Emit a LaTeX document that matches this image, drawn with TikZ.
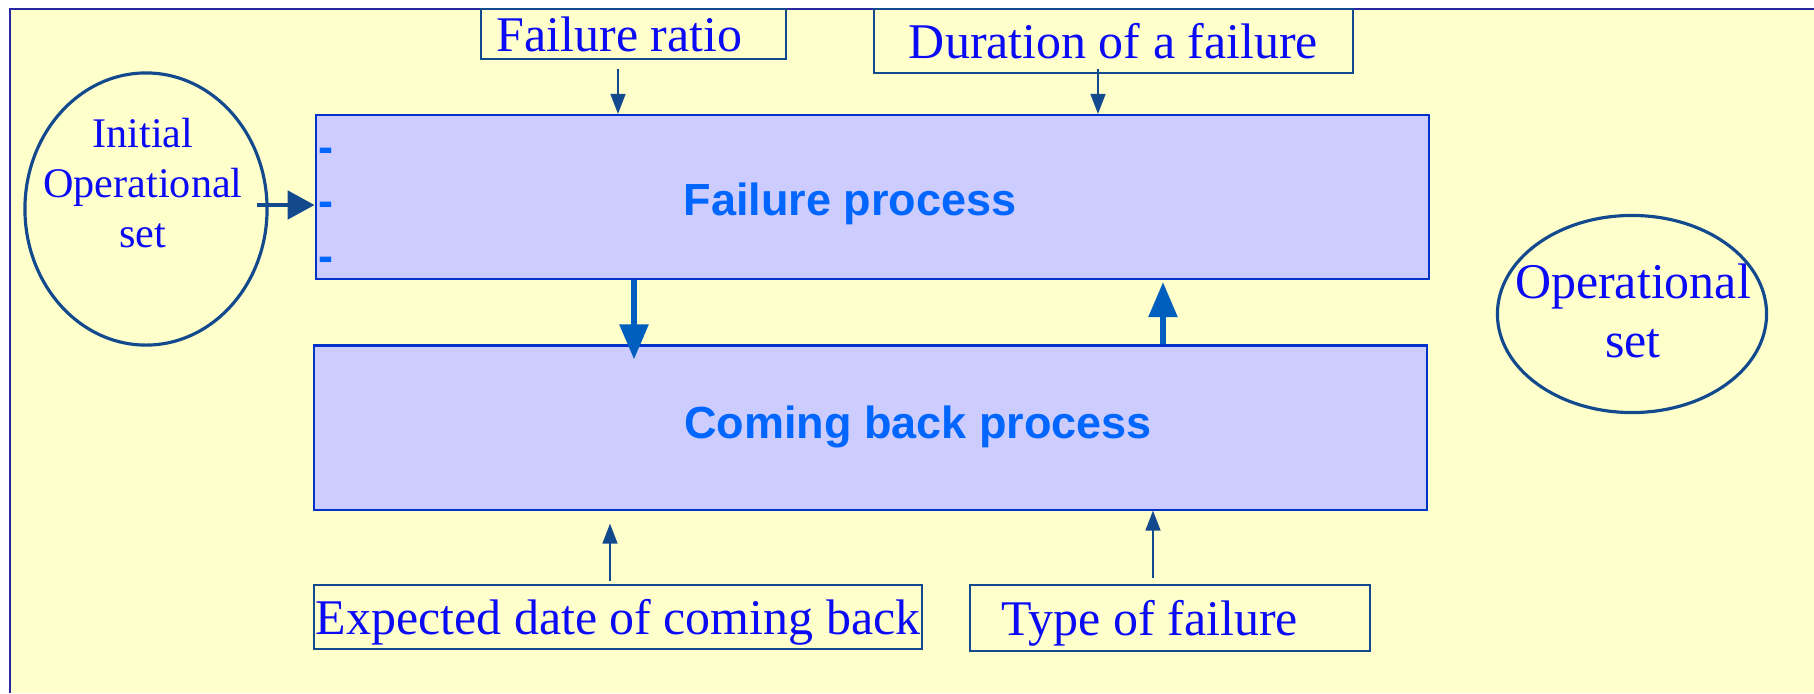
\documentclass[tikz,border=0pt]{standalone}
\usepackage{fontspec}
\setmainfont{Liberation Serif}
\setsansfont{Liberation Sans}
\usetikzlibrary{arrows.meta,shapes.geometric}
\definecolor{bgyellow}{HTML}{FFFFCC}
\definecolor{bgborder}{HTML}{2828A0}
\definecolor{boxfill}{HTML}{CCCCFF}
\definecolor{boxline}{HTML}{0033CC}
\definecolor{txtblue}{HTML}{0A0AF5}
\definecolor{boldblue}{HTML}{0066FF}
\definecolor{darkline}{HTML}{134A8E}
\definecolor{flowblue}{HTML}{005EBF}
\begin{document}
\begin{tikzpicture}[x=0.01cm,y=-0.01cm,
    procbox/.style={draw=boxline,fill=boxfill,line width=0.6pt,minimum width=11.13cm,minimum height=1.64cm,inner sep=0pt},
    proctext/.style={text=boldblue,inner sep=0pt,font=\sffamily\bfseries\fontsize{12.8}{15}\selectfont},
    labelbox/.style={draw=darkline,line width=0.5pt,inner ysep=0pt,text=txtblue,font=\fontsize{14.2}{17}\selectfont},
    setellipse/.style={ellipse,draw=darkline,line width=0.9pt,inner sep=0pt},
    settext/.style={text=txtblue,align=center,inner sep=0pt},
    thinarrow/.style={darkline,line width=0.45pt,-{Triangle[length=0.2cm,width=0.15cm]}},
    flowarrow/.style={flowblue,line width=1.6pt,-{Triangle[length=0.35cm,width=0.28cm]}}]
    \useasboundingbox (0,0) rectangle (1814,693);
    % background
    \fill[bgyellow] (10,9) rectangle (1814,693);
    \draw[bgborder,line width=0.6pt] (10,693) -- (10,9) -- (1814,9);
    % the two processes
    \node[procbox] (failure) at (872.5,197) {};
    \node[proctext] (failuretext) at (850,204) {Failure process};
    \node[procbox] (back) at (870.5,427.5) {};
    \node[proctext] (backtext) at (918,427) {Coming back process};
    \foreach \y [count=\i] in {150,204,259}
        \node[anchor=base,text=boldblue,inner sep=0pt,font=\sffamily\bfseries\fontsize{12.8}{15}\selectfont] (dash\i) at (326,\y+12) {-};
    % sets
    \node[setellipse,minimum width=2.42cm,minimum height=2.72cm] (initial) at (146,209) {};
    \node[settext,font=\fontsize{12}{14.2}\selectfont] (initialtext) at (143,183) {Initial\\Operational\\set};
    \node[setellipse,minimum width=2.69cm,minimum height=1.97cm] (operational) at (1632,314) {};
    \node[settext,font=\fontsize{14.2}{16.8}\selectfont] (operationaltext) at (1633,311) {Operational\\set};
    % inputs
    \node[labelbox,minimum height=0.5cm,inner xsep=0.16cm] (ratio) at (633.5,34) {\makebox[2.73cm][l]{Failure ratio}};
    \node[labelbox,minimum height=0.64cm,minimum width=4.79cm,inner xsep=0pt] (duration) at (1113.5,41) {Duration of a failure};
    \node[labelbox,minimum height=0.64cm,minimum width=6.08cm,inner xsep=0pt,text height=0.45cm,text depth=0.1cm] (expected) at (618,617) {Expected date of coming back};
    \node[labelbox,minimum height=0.66cm,inner xsep=0.32cm,text height=0.45cm,text depth=0.1cm] (type) at (1170,618) {\makebox[3.36cm][l]{Type of failure}};
    % arrows
    \coordinate (ia) at (257,205);
    \coordinate (ra) at (618,69);
    \coordinate (da) at (1098,69);
    \coordinate (ea) at (610,581);
    \coordinate (ta) at (1153,578);
    \coordinate (down) at (634,0);
    \coordinate (up) at (1163,0);
    \draw[darkline,line width=1.4pt,-{Triangle[length=0.27cm,width=0.28cm]}] (ia) -- (ia -| failure.west);
    \draw[thinarrow] (ra) -- (ra |- failure.north);
    \draw[thinarrow] (da) -- (da |- failure.north);
    \draw[thinarrow,shorten >=0.13cm] (ea) -- (ea |- back.south);
    \draw[thinarrow] (ta) -- (ta |- back.south);
    \draw[flowarrow,shorten >=-0.15cm] (down |- failure.south) -- (down |- back.north);
    \draw[flowarrow,shorten >=0.02cm] (up |- back.north) -- (up |- failure.south);
\end{tikzpicture}
\end{document}
